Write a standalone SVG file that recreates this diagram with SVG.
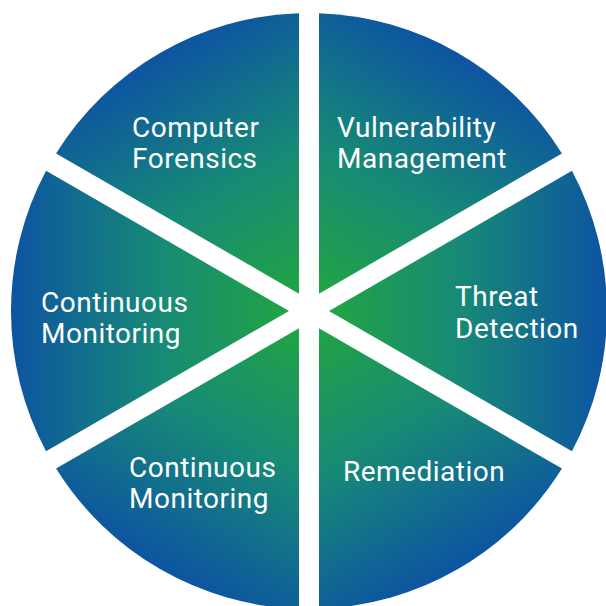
<svg xmlns="http://www.w3.org/2000/svg" width="606" height="606" viewBox="0 0 606 606">
  <style>
    .lbl { font-family: Roboto, "Liberation Sans", sans-serif; font-size: 28px; letter-spacing: 0.5px; fill: #ffffff; }
  </style>
  <defs>
    <linearGradient id="sg" gradientUnits="userSpaceOnUse" x1="309" y1="311" x2="458" y2="52.92">
      <stop offset="0" stop-color="#22a83c"/>
      <stop offset="0.5" stop-color="#178a76"/>
      <stop offset="1" stop-color="#0d54a2"/>
    </linearGradient>
    <path id="slice" d="M319,293.68 L319,13.17 A298,298 0 0 1 561.93,153.42 Z" fill="url(#sg)"/>
  </defs>
  <rect width="606" height="606" fill="#ffffff"/>
  <g id="vulnerability-management">
    <use href="#slice"/>
    <text class="lbl" x="337" y="137">Vulnerability</text>
    <text class="lbl" x="337" y="168">Management</text>
  </g>
  <g id="threat-detection">
    <use href="#slice" transform="rotate(60 309 311)"/>
    <text class="lbl" x="455" y="306">Threat</text>
    <text class="lbl" x="455" y="338">Detection</text>
  </g>
  <g id="remediation">
    <use href="#slice" transform="rotate(120 309 311)"/>
    <text class="lbl" x="343" y="481">Remediation</text>
  </g>
  <g id="continuous-monitoring-bottom">
    <use href="#slice" transform="rotate(180 309 311)"/>
    <text class="lbl" x="129" y="477">Continuous</text>
    <text class="lbl" x="129" y="508">Monitoring</text>
  </g>
  <g id="continuous-monitoring-left">
    <use href="#slice" transform="rotate(240 309 311)"/>
    <text class="lbl" x="41" y="312">Continuous</text>
    <text class="lbl" x="41" y="343">Monitoring</text>
  </g>
  <g id="computer-forensics">
    <use href="#slice" transform="rotate(300 309 311)"/>
    <text class="lbl" x="132" y="137">Computer</text>
    <text class="lbl" x="132" y="168">Forensics</text>
  </g>
  <g id="connectors"/>
</svg>
